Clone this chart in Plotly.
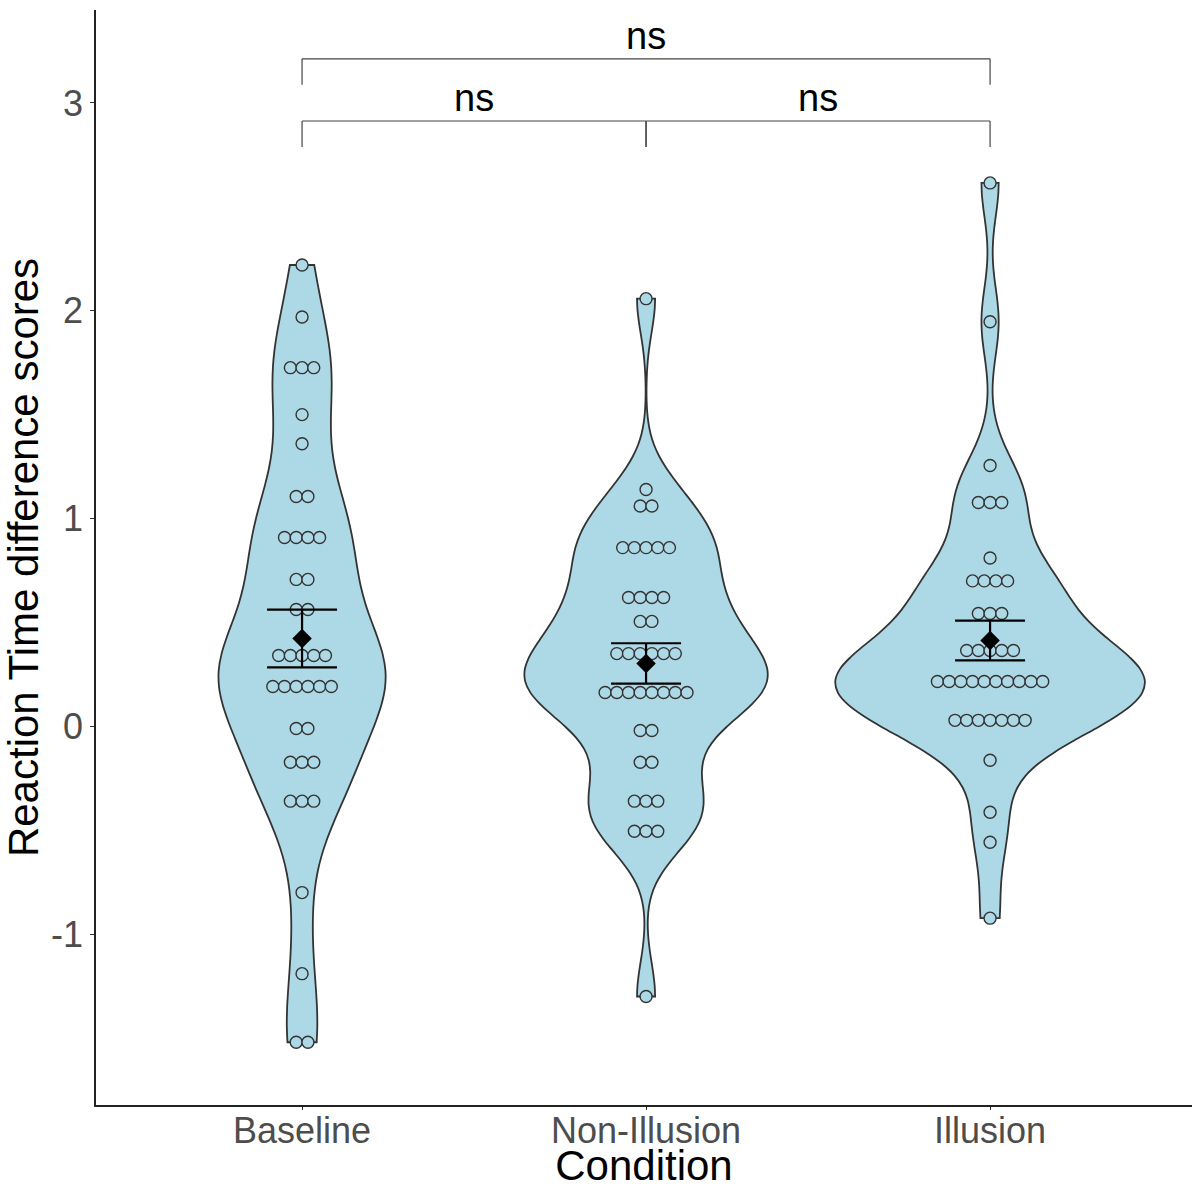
import numpy as np
import plotly.graph_objects as go

categories = ["Baseline", "Non-Illusion", "Illusion"]

# dot-plot values (bin centres) and how many dots are stacked at each
baseline_vals = [2.22, 1.97, 1.726, 1.50, 1.36, 1.106, 0.909, 0.707, 0.5625, 0.341, 0.192,
                 -0.01, -0.173, -0.36, -0.80, -1.19, -1.52]
baseline_cnts = [1, 1, 3, 1, 1, 2, 4, 2, 2, 5, 6, 2, 3, 3, 1, 1, 2]

nonillusion_vals = [2.058, 1.14, 1.06, 0.86, 0.62, 0.505, 0.35, 0.163, -0.02, -0.173, -0.36, -0.505, -1.30]
nonillusion_cnts = [1, 1, 2, 5, 4, 2, 6, 8, 2, 2, 3, 3, 1]

illusion_vals = [2.615, 1.947, 1.255, 1.077, 0.81, 0.70, 0.543, 0.365, 0.216, 0.029, -0.163, -0.413, -0.558, -0.923]
illusion_cnts = [1, 1, 1, 3, 1, 4, 3, 5, 10, 7, 1, 1, 1, 1]

means = [0.423, 0.303, 0.413]
ses = [0.139, 0.097, 0.096]

ns_labels = ["ns", "ns", "ns"]
comparisons = [(0, 1), (1, 2), (0, 2)]

groups = [(baseline_vals, baseline_cnts), (nonillusion_vals, nonillusion_cnts), (illusion_vals, illusion_cnts)]

LIGHT = "#ADD8E6"
DARK = "#333333"
FONT = "Liberation Sans, Arial, Helvetica, sans-serif"

fig = go.Figure()

def nrd0(x):
    x = np.asarray(x, float)
    sd = x.std(ddof=1)
    iqr = np.subtract(*np.percentile(x, [75, 25]))
    lo = min(sd, iqr / 1.34)
    return 0.9 * lo * len(x) ** (-0.2)

def kde_max(x, bw):
    x = np.asarray(x, float)
    grid = np.linspace(x.min(), x.max(), 512)
    d = np.exp(-0.5 * ((grid[:, None] - x[None, :]) / bw) ** 2).sum(axis=1)
    d /= (len(x) * bw * np.sqrt(2 * np.pi))
    return d.max()

ADJUST = 0.8
raws = [np.repeat(v, c) for v, c in groups]
bws = [ADJUST * nrd0(r) for r in raws]
peaks = [kde_max(r, b) for r, b in zip(raws, bws)]
top = max(peaks)

for i, (raw, bw, pk) in enumerate(zip(raws, bws, peaks)):
    fig.add_trace(go.Violin(
        x0=i, y=raw, width=0.9 * pk / top, scalemode="width", scalegroup=f"g{i}",
        spanmode="hard", bandwidth=bw, points=False,
        fillcolor=LIGHT, opacity=1, line=dict(color=DARK, width=1.8),
        box_visible=False, meanline_visible=False, showlegend=False,
        hoverinfo="skip",
    ))

# dot stacks (centered)
spacing = 11.7 / 344.0
for i, (vals, cnts) in enumerate(groups):
    xs, ys = [], []
    for v, c in zip(vals, cnts):
        for k in range(c):
            xs.append(i + (k - (c - 1) / 2) * spacing)
            ys.append(v)
    fig.add_trace(go.Scatter(
        x=xs, y=ys, mode="markers", showlegend=False, hoverinfo="skip",
        marker=dict(size=12, color=LIGHT, line=dict(color=DARK, width=1.4)),
    ))

# mean +/- SE
fig.add_trace(go.Scatter(
    x=list(range(len(categories))), y=means, mode="markers", showlegend=False,
    marker=dict(symbol="diamond", size=15, color="black"),
    error_y=dict(type="data", array=ses, visible=True, color="black", thickness=2.2, width=35),
))

# significance brackets
shapes = []
annotations = []
levels = [2.913, 2.913, 3.212]
drop = 0.125
for (a, b), lvl, lab in zip(comparisons, levels, ns_labels):
    for xx in (a, b):
        shapes.append(dict(type="line", x0=xx, x1=xx, y0=lvl - drop, y1=lvl,
                           line=dict(color="#444444", width=1.2)))
    shapes.append(dict(type="line", x0=a, x1=b, y0=lvl, y1=lvl,
                       line=dict(color="#444444", width=1.2)))
    annotations.append(dict(x=(a + b) / 2, y=lvl + 0.0, text=lab, showarrow=False,
                            yanchor="bottom", font=dict(size=38, color="black", family=FONT)))

fig.update_layout(
    width=1192, height=1189,
    margin=dict(l=96, r=0, t=10, b=84),
    paper_bgcolor="white", plot_bgcolor="white",
    violinmode="overlay",
    shapes=shapes, annotations=annotations,
    font=dict(family=FONT),
    xaxis=dict(
        range=[-0.599, 2.587], tickvals=list(range(len(categories))), ticktext=categories,
        showgrid=False, zeroline=False, showline=True, linecolor="#222222", linewidth=1.5,
        ticks="outside", ticklen=3, tickcolor="#333333", tickwidth=1.2,
        ticklabelstandoff=-10,
        tickfont=dict(size=36, color="#4D4D4D", family=FONT),
        title=dict(text="Condition", font=dict(size=42, color="black", family=FONT), standoff=5),
    ),
    yaxis=dict(
        range=[-1.822, 3.447], tickvals=[-1, 0, 1, 2, 3], ticktext=["-1", "0", "1", "2", "3"],
        showgrid=False, zeroline=False, showline=True, linecolor="#222222", linewidth=1.5,
        ticks="outside", ticklen=4, tickcolor="#333333", tickwidth=1.2,
        tickfont=dict(size=36, color="#4D4D4D", family=FONT),
        title=dict(text="Reaction Time difference scores", font=dict(size=42, color="black", family=FONT), standoff=7),
    ),
)

fig.write_html("out.html")
